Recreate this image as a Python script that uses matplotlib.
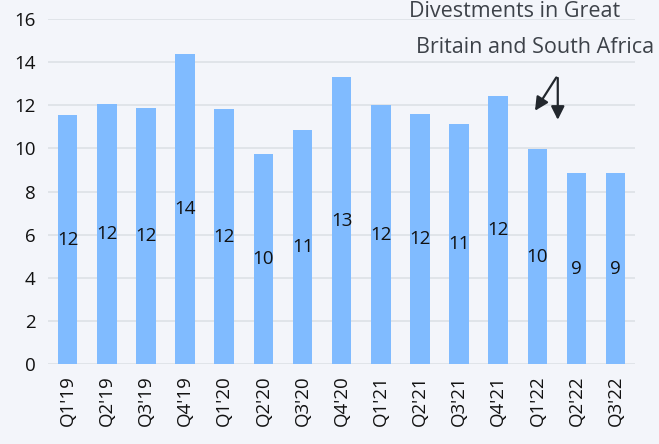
import matplotlib.pyplot as plt

# quarterly values
quarters = ["Q1'19", "Q2'19", "Q3'19", "Q4'19", "Q1'20", "Q2'20", "Q3'20", "Q4'20",
            "Q1'21", "Q2'21", "Q3'21", "Q4'21", "Q1'22", "Q2'22", "Q3'22"]
values = [11.55, 12.06, 11.87, 14.38, 11.83, 9.74, 10.85, 13.31,
          12.01, 11.6, 11.13, 12.43, 9.97, 8.86, 8.86]
yticks = [0, 2, 4, 6, 8, 10, 12, 14, 16]

plt.rcParams['font.family'] = ['Open Sans', 'DejaVu Sans']
bg = '#f3f5fa'

fig = plt.figure(figsize=(6.59, 4.44), dpi=100, facecolor=bg)
ax = fig.add_axes([0.073, 0.18, 0.891, 0.777], facecolor=bg)

x = list(range(len(quarters)))
ax.bar(x, values, width=0.5, color='#80bbff', zorder=2)

# value labels in the middle of each bar
for i, v in enumerate(values):
    ax.text(i, v / 2, str(round(v)), ha='center', va='center', fontsize=13.5, color='#111111', zorder=3)

ax.set_xlim(-0.5, len(quarters) - 0.5)
ax.set_ylim(0, 16)
ax.set_yticks(yticks)
ax.set_xticks(x)
ax.set_xticklabels(quarters, rotation=90)
ax.tick_params(axis='both', length=0, labelsize=13.5, colors='#111111')
ax.tick_params(axis='y', pad=9)
ax.tick_params(axis='x', pad=8)

ax.grid(axis='y', color='#dde1e6', linewidth=1.2, zorder=0)
ax.set_axisbelow(True)
for s in ax.spines.values():
    s.set_visible(False)

# annotation
ax.text(8.71, 16.37, 'Divestments in Great', fontsize=15.5, color='#3d4249',
        ha='left', va='center', clip_on=False)
ax.text(8.89, 14.7, 'Britain and South Africa', fontsize=15.5, color='#3d4249',
        ha='left', va='center', clip_on=False)
arrow = dict(arrowstyle='-|>', color='#22272d', lw=1.6, mutation_scale=20)
ax.annotate('', xy=(11.9, 11.64), xytext=(12.52, 13.4), arrowprops=arrow)
ax.annotate('', xy=(12.52, 11.2), xytext=(12.52, 13.4), arrowprops=arrow)

fig.savefig('out.png', dpi=100, facecolor=bg)
